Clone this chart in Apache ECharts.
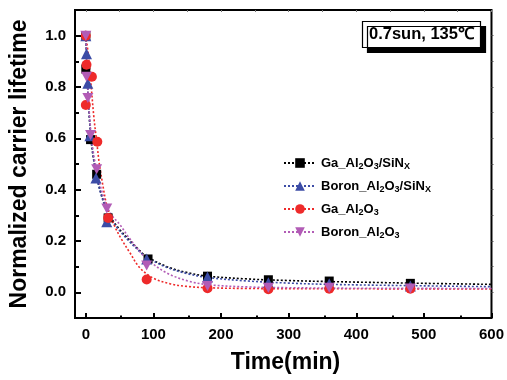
<!DOCTYPE html>
<html><head><meta charset="utf-8">
<script src="https://cdn.jsdelivr.net/npm/echarts@6/dist/echarts.min.js"></script>
<style>html,body{margin:0;padding:0;background:#fff}#c{width:507px;height:380px}</style>
</head><body><div id="c"></div>
<script>
// ---- series names / colours
const seriesNames = ['Ga_Al2O3/SiNX', 'Boron_Al2O3/SiNX', 'Ga_Al2O3', 'Boron_Al2O3'];
const seriesColors = ['#000000', '#3c4ca6', '#ee2a2a', '#b25cb6'];
const seriesSymbols = ['rect', 'triangle', 'circle', 'path://M0,0 L10,0 L5,9 Z'];
const seriesSymbolSizes = [9, 11, 10, [11, 10]];

// ---- measured points (time in min, normalized lifetime)
const gaSiNxTime = [0, 0, 7, 16, 33, 92, 180, 270, 360, 480];
const gaSiNxValue = [1.0, 0.87, 0.595, 0.46, 0.29, 0.13, 0.063, 0.049, 0.044, 0.035];
const boronSiNxTime = [0, 1, 3, 6, 15, 31, 90, 180, 270, 360, 480];
const boronSiNxValue = [1.0, 0.93, 0.815, 0.61, 0.445, 0.275, 0.13, 0.06, 0.037, 0.033, 0.025];
const gaTime = [0, 1, 0, 9, 17, 33, 90, 180, 270, 360, 480];
const gaValue = [1.0, 0.887, 0.73, 0.84, 0.587, 0.29, 0.05, 0.016, 0.012, 0.014, 0.014];
const boronTime = [0, 1, 3, 7, 16, 31, 90, 180, 270, 360, 480];
const boronValue = [1.0, 0.84, 0.757, 0.613, 0.48, 0.327, 0.105, 0.025, 0.018, 0.018, 0.015];

// ---- fitted decay curves
const fitGaSiNxTime = [0, 2, 5, 8, 12, 16, 22, 30, 40, 50, 62, 75, 90, 120, 150, 180, 240, 300, 360, 480, 600];
const fitGaSiNxValue = [1.0, 0.84, 0.69, 0.59, 0.51, 0.455, 0.39, 0.33, 0.28, 0.245, 0.21, 0.175, 0.14, 0.1, 0.077, 0.063, 0.052, 0.046, 0.042, 0.036, 0.031];
const fitBoronSiNxTime = [0, 2, 5, 8, 12, 16, 22, 30, 40, 50, 62, 75, 90, 120, 150, 180, 240, 300, 360, 480, 600];
const fitBoronSiNxValue = [1.0, 0.84, 0.69, 0.59, 0.51, 0.45, 0.385, 0.325, 0.275, 0.24, 0.205, 0.17, 0.137, 0.097, 0.073, 0.058, 0.044, 0.036, 0.031, 0.026, 0.022];
const fitGaTime = [0, 4, 8, 12, 16, 20, 25, 30, 36, 44, 52, 65, 80, 100, 125, 150, 180, 240, 360, 600];
const fitGaValue = [1.0, 0.92, 0.8, 0.68, 0.59, 0.5, 0.42, 0.35, 0.3, 0.25, 0.21, 0.155, 0.095, 0.055, 0.033, 0.023, 0.018, 0.015, 0.014, 0.013];
const fitBoronTime = [0, 3, 7, 12, 16, 22, 31, 40, 50, 62, 75, 90, 120, 150, 180, 240, 300, 400, 600];
const fitBoronValue = [1.0, 0.8, 0.64, 0.53, 0.48, 0.41, 0.335, 0.295, 0.265, 0.22, 0.175, 0.13, 0.075, 0.045, 0.03, 0.021, 0.018, 0.016, 0.015];

// ---- axes
const xRange = [-16, 600];
const yRange = [-0.1, 1.1];
const xTickValues = [0, 100, 200, 300, 400, 500, 600];
const xMinorTickValues = [50, 150, 250, 350, 450, 550];
const xTopTickValues = [0, 50, 100, 150, 200, 250, 300, 350, 400, 450, 500, 550, 600];
const yTickValues = [0.0, 0.2, 0.4, 0.6, 0.8, 1.0];
const yMinorTickValues = [0.1, 0.3, 0.5, 0.7, 0.9];
const yRightTickValues = [0.0, 0.1, 0.2, 0.3, 0.4, 0.5, 0.6, 0.7, 0.8, 0.9, 1.0];
const xTitle = 'Time(min)';
const yTitle = 'Normalized carrier lifetime';
const boxLabel = '0.7sun, 135\u2103';

const pointTimes = [gaSiNxTime, boronSiNxTime, gaTime, boronTime];
const pointValues = [gaSiNxValue, boronSiNxValue, gaValue, boronValue];
const fitTimes = [fitGaSiNxTime, fitBoronSiNxTime, fitGaTime, fitBoronTime];
const fitValues = [fitGaSiNxValue, fitBoronSiNxValue, fitGaValue, fitBoronValue];

const zip = (a, b) => a.map((v, i) => [v, b[i]]);
const FONT = 'Liberation Sans, Arial, sans-serif';

const series = [];
seriesNames.forEach((name, i) => {
  series.push({
    name, type: 'line', xAxisIndex: 0, yAxisIndex: 0,
    data: zip(fitTimes[i], fitValues[i]),
    smooth: 0.35, showSymbol: false, symbol: seriesSymbols[i], symbolSize: seriesSymbolSizes[i],
    color: seriesColors[i], itemStyle: { color: seriesColors[i] },
    lineStyle: { color: seriesColors[i], width: 1.6, type: [2, 2] },
    clip: false, silent: true, z: 2
  });
});
seriesNames.forEach((name, i) => {
  series.push({
    name, type: 'scatter', xAxisIndex: 0, yAxisIndex: 0,
    data: zip(pointTimes[i], pointValues[i]),
    symbol: seriesSymbols[i], symbolSize: seriesSymbolSizes[i],
    itemStyle: { color: seriesColors[i], opacity: 1 },
    clip: false, z: 3
  });
});

const noLine = { show: false, onZero: false };
const labelStyle = { color: '#000', fontFamily: FONT, fontSize: 15, fontWeight: 'bold' };
const titleStyle = { fontFamily: FONT, fontSize: 23, fontWeight: 'bold', color: '#000' };

const chart = echarts.init(document.getElementById('c'), null, { renderer: 'canvas' });
chart.setOption({
  animation: false,
  backgroundColor: '#fff',
  textStyle: { fontFamily: FONT },
  title: {
    text: boxLabel, left: 362, top: 21, padding: [5, 7, 5, 7],
    backgroundColor: '#fff', borderColor: '#000', borderWidth: 1.2,
    shadowColor: '#000', shadowOffsetX: 5, shadowOffsetY: 5, shadowBlur: 0,
    textStyle: { fontFamily: FONT, fontSize: 16.5, fontWeight: 'bold', color: '#000' }
  },
  legend: {
    orient: 'vertical', left: 283, top: 155, padding: 0,
    itemWidth: 32, itemHeight: 12, itemGap: 7,
    data: seriesNames,
    textStyle: {
      fontFamily: FONT, fontSize: 13, fontWeight: 'bold', color: '#000', lineHeight: 16,
      rich: { s: { fontFamily: FONT, fontSize: 9, fontWeight: 'bold', color: '#000', verticalAlign: 'bottom', lineHeight: 12 } }
    },
    formatter: n => n.replace('Al2O3', 'Al{s|2}O{s|3}').replace('SiNX', 'SiN{s|X}')
  },
  grid: [
    { left: 75, right: 12, top: 10, bottom: 62, show: true, borderColor: '#000', borderWidth: 2, backgroundColor: 'transparent' },
    { left: 75, right: 12, top: 10, bottom: 62, show: false }
  ],
  xAxis: [
    { type: 'value', gridIndex: 0, position: 'bottom', min: xRange[0], max: xRange[1],
      axisLine: noLine, splitLine: { show: false },
      axisTick: { show: true, inside: true, length: 5, customValues: xTickValues, lineStyle: { color: '#000', width: 2 } },
      axisLabel: Object.assign({ margin: 9, customValues: xTickValues }, labelStyle) },
    { type: 'value', gridIndex: 0, position: 'top', min: xRange[0], max: xRange[1],
      axisLine: noLine, splitLine: { show: false }, axisLabel: { show: false },
      axisTick: { show: true, inside: true, length: 2, customValues: xTopTickValues, lineStyle: { color: '#777', width: 1 } } },
    { type: 'value', gridIndex: 1, position: 'bottom', min: xRange[0], max: xRange[1],
      axisLine: noLine, splitLine: { show: false }, axisLabel: { show: false },
      axisTick: { show: true, inside: true, length: 2.5, customValues: xMinorTickValues, lineStyle: { color: '#000', width: 2 } },
      name: xTitle, nameLocation: 'middle', nameGap: 33, nameTextStyle: titleStyle }
  ],
  yAxis: [
    { type: 'value', gridIndex: 0, position: 'left', min: yRange[0], max: yRange[1],
      axisLine: noLine, splitLine: { show: false },
      axisTick: { show: true, inside: true, length: 6, customValues: yTickValues, lineStyle: { color: '#000', width: 2 } },
      axisLabel: Object.assign({ margin: 9, customValues: yTickValues, formatter: v => v.toFixed(1) }, labelStyle) },
    { type: 'value', gridIndex: 0, position: 'right', min: yRange[0], max: yRange[1],
      axisLine: noLine, splitLine: { show: false }, axisLabel: { show: false },
      axisTick: { show: true, inside: false, length: 2, customValues: yRightTickValues, lineStyle: { color: '#555', width: 1 } } },
    { type: 'value', gridIndex: 1, position: 'left', min: yRange[0], max: yRange[1],
      axisLine: noLine, splitLine: { show: false }, axisLabel: { show: false },
      axisTick: { show: true, inside: true, length: 3, customValues: yMinorTickValues, lineStyle: { color: '#000', width: 2 } },
      name: yTitle, nameLocation: 'middle', nameGap: 45, nameTextStyle: titleStyle }
  ],
  series
});
</script>
</body></html>
